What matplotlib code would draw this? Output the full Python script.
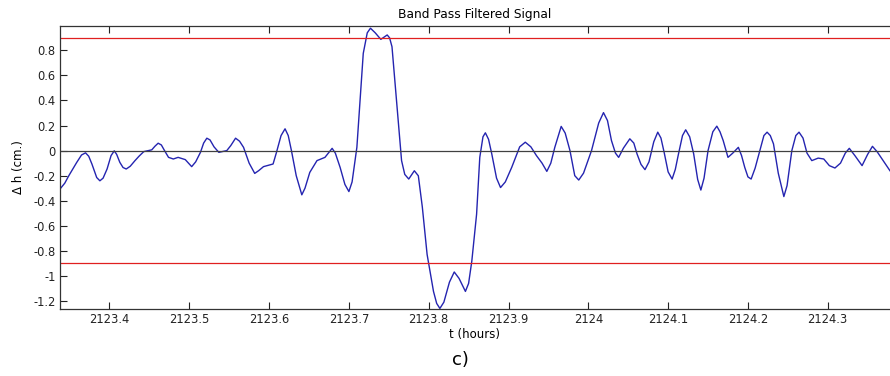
import numpy as np
import matplotlib
matplotlib.use('Agg')
import matplotlib.pyplot as plt

# values (time in hours, delta h in cm)
t = [2123.338, 2123.344, 2123.349, 2123.359, 2123.365, 2123.370, 2123.374, 2123.378,
     2123.384, 2123.388, 2123.392, 2123.397, 2123.402, 2123.406, 2123.409, 2123.413,
     2123.417, 2123.421, 2123.426, 2123.432, 2123.437, 2123.443, 2123.453, 2123.457,
     2123.461, 2123.465, 2123.469, 2123.474, 2123.480, 2123.486, 2123.495, 2123.499,
     2123.503, 2123.508, 2123.514, 2123.518, 2123.522, 2123.526, 2123.531, 2123.537,
     2123.547, 2123.552, 2123.558, 2123.563, 2123.568, 2123.575, 2123.582, 2123.587,
     2123.593, 2123.605, 2123.609, 2123.615, 2123.620, 2123.624, 2123.628, 2123.634,
     2123.641, 2123.645, 2123.651, 2123.660, 2123.670, 2123.679, 2123.683, 2123.689,
     2123.695, 2123.700, 2123.704, 2123.710, 2123.718, 2123.723, 2123.727, 2123.733,
     2123.740, 2123.748, 2123.751, 2123.754, 2123.760, 2123.766, 2123.770, 2123.775,
     2123.782, 2123.787, 2123.792, 2123.798, 2123.806, 2123.810, 2123.814, 2123.819,
     2123.826, 2123.832, 2123.838, 2123.846, 2123.850, 2123.854, 2123.860, 2123.864,
     2123.868, 2123.871, 2123.875, 2123.879, 2123.885, 2123.890, 2123.896, 2123.904,
     2123.914, 2123.921, 2123.928, 2123.935, 2123.942, 2123.948, 2123.953, 2123.958,
     2123.966, 2123.971, 2123.977, 2123.983, 2123.988, 2123.994, 2124.004, 2124.013,
     2124.019, 2124.024, 2124.029, 2124.034, 2124.038, 2124.044, 2124.052, 2124.057,
     2124.061, 2124.066, 2124.071, 2124.076, 2124.082, 2124.087, 2124.091, 2124.095,
     2124.100, 2124.105, 2124.109, 2124.113, 2124.118, 2124.122, 2124.127, 2124.132,
     2124.137, 2124.141, 2124.145, 2124.150, 2124.156, 2124.161, 2124.165, 2124.169,
     2124.175, 2124.181, 2124.188, 2124.192, 2124.196, 2124.200, 2124.204, 2124.209,
     2124.215, 2124.220, 2124.224, 2124.228, 2124.232, 2124.238, 2124.245, 2124.249,
     2124.255, 2124.260, 2124.264, 2124.269, 2124.274, 2124.280, 2124.288, 2124.295,
     2124.302, 2124.309, 2124.316, 2124.322, 2124.327, 2124.334, 2124.343, 2124.350,
     2124.356, 2124.362, 2124.368, 2124.378]
dh = [-0.307, -0.260, -0.201, -0.094, -0.035, -0.018, -0.045, -0.107,
      -0.215, -0.241, -0.220, -0.147, -0.040, -0.002, -0.030, -0.094,
      -0.135, -0.147, -0.125, -0.080, -0.045, -0.008, 0.006, 0.035,
      0.059, 0.045, 0.000, -0.054, -0.067, -0.054, -0.072, -0.100,
      -0.128, -0.090, -0.014, 0.060, 0.099, 0.085, 0.030, -0.014,
      0.000, 0.040, 0.099, 0.075, 0.026, -0.100, -0.182, -0.160,
      -0.128, -0.107, -0.020, 0.120, 0.174, 0.120, 0.000, -0.200,
      -0.353, -0.300, -0.174, -0.080, -0.054, 0.018, -0.020, -0.134,
      -0.270, -0.327, -0.250, 0.026, 0.776, 0.940, 0.977, 0.940,
      0.888, 0.923, 0.900, 0.829, 0.375, -0.080, -0.190, -0.227,
      -0.161, -0.201, -0.450, -0.829, -1.124, -1.220, -1.260, -1.210,
      -1.050, -0.969, -1.020, -1.124, -1.060, -0.883, -0.508, -0.054,
      0.110, 0.142, 0.090, -0.026, -0.220, -0.295, -0.250, -0.134,
      0.030, 0.067, 0.030, -0.040, -0.100, -0.166, -0.100, 0.026,
      0.193, 0.140, 0.000, -0.200, -0.235, -0.180, 0.000, 0.220,
      0.303, 0.240, 0.080, -0.020, -0.054, 0.020, 0.094, 0.060,
      -0.026, -0.110, -0.152, -0.090, 0.070, 0.147, 0.100, -0.014,
      -0.170, -0.227, -0.150, -0.026, 0.120, 0.166, 0.110, -0.026,
      -0.230, -0.315, -0.220, 0.000, 0.150, 0.195, 0.150, 0.080,
      -0.054, -0.020, 0.026, -0.040, -0.134, -0.210, -0.227, -0.140,
      0.000, 0.120, 0.147, 0.120, 0.054, -0.180, -0.367, -0.280,
      0.000, 0.120, 0.147, 0.100, -0.020, -0.080, -0.060, -0.067,
      -0.120, -0.139, -0.100, -0.020, 0.018, -0.040, -0.120, -0.030,
      0.034, -0.010, -0.067, -0.161]
threshold = 0.9
xticks = [2123.4, 2123.5, 2123.6, 2123.7, 2123.8, 2123.9, 2124.0, 2124.1, 2124.2, 2124.3]
xticklabels = ['2123.4', '2123.5', '2123.6', '2123.7', '2123.8', '2123.9', '2124',
               '2124.1', '2124.2', '2124.3']
yticks = [0.8, 0.6, 0.4, 0.2, 0, -0.2, -0.4, -0.6, -0.8, -1, -1.2]
yticklabels = ['0.8', '0.6', '0.4', '0.2', '0', '-0.2', '-0.4', '-0.6', '-0.8', '-1', '-1.2']

plt.rcParams['font.family'] = ['DejaVu Sans']

fig = plt.figure(figsize=(8.9, 3.76), dpi=100)
ax = fig.add_axes([0.0674, 0.178, 0.9326, 0.753])

ax.plot(t, dh, color='#2424b0', lw=1.0)
ax.axhline(threshold, color='#e02020', lw=0.9)
ax.axhline(-threshold, color='#e02020', lw=0.9)
ax.axhline(0, color='#404040', lw=0.9)

ax.set_xlim(2123.338, 2124.378)
ax.set_ylim(-1.265, 0.995)
ax.set_xticks(xticks)
ax.set_xticklabels(xticklabels)
ax.set_yticks(yticks)
ax.set_yticklabels(yticklabels)
ax.tick_params(direction='in', length=5, width=0.8, labelsize=8.3, colors='#222222',
               top=True, right=False, pad=3)

for s in ['top', 'left', 'bottom']:
    ax.spines[s].set_color('#333333')
    ax.spines[s].set_linewidth(0.9)
ax.spines['right'].set_visible(False)

ax.set_title('Band Pass Filtered Signal', fontsize=8.8, pad=6)
ax.set_xlabel('t (hours)', fontsize=8.5, labelpad=1)
ax.set_ylabel('\u0394 h (cm.)', fontsize=8.5, labelpad=6)

fig.text(0.517, 0.042, 'c)', fontsize=13, ha='center', va='center')

fig.savefig('out.png', dpi=100)
